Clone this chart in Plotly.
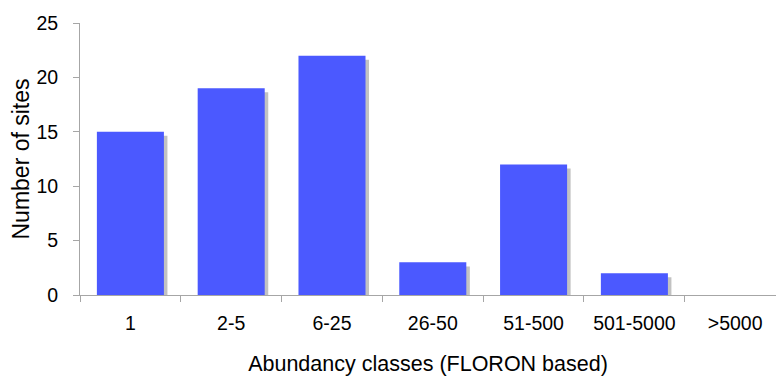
import plotly.graph_objects as go

categories = ["1", "2-5", "6-25", "26-50", "51-500", "501-5000", ">5000"]
sites = [15, 19, 22, 3, 12, 2, 0]
y_ticks = [0, 5, 10, 15, 20, 25]

BAR = "#4B59FF"
SHADOW = "#C2C2C2"
AXIS = "#A6A6A6"
FONT = "Liberation Sans, Arial, sans-serif"

bar_w = 0.665
shadow_dx = 0.035
shadow_dy = 0.37
shadow_vals = [max(v - shadow_dy, 0) for v in sites]

fig = go.Figure()
fig.add_trace(go.Bar(
    x=categories, y=shadow_vals, width=bar_w,
    offset=-bar_w / 2 + shadow_dx,
    marker=dict(color=SHADOW, line=dict(width=0)),
    hoverinfo="skip", showlegend=False,
))
fig.add_trace(go.Bar(
    x=categories, y=sites, width=bar_w,
    offset=-bar_w / 2,
    marker=dict(color=BAR, line=dict(width=0)),
    showlegend=False,
))

fig.update_layout(
    width=776, height=376,
    margin=dict(l=80, r=0, t=23, b=81),
    paper_bgcolor="white", plot_bgcolor="white",
    barmode="overlay",
    font=dict(family=FONT, color="black"),
    xaxis=dict(
        type="category",
        range=[-0.5, 6.405],
        showline=True, linecolor=AXIS, linewidth=1,
        ticks="outside", tickson="boundaries", ticklen=6, tickcolor=AXIS,
        tickfont=dict(size=19.5),
        ticklabelstandoff=11,
        showgrid=False, zeroline=False,
        title=dict(text="Abundancy classes (FLORON based)", font=dict(size=21.5), standoff=24),
    ),
    yaxis=dict(
        range=[0, 25],
        tickvals=y_ticks,
        showline=True, linecolor=AXIS, linewidth=1,
        ticks="outside", ticklen=6, tickcolor=AXIS,
        tickfont=dict(size=19.5),
        ticklabelstandoff=11,
        showgrid=False, zeroline=False,
        title=dict(text="Number of sites", font=dict(size=23), standoff=0),
    ),
)

fig.write_html("out.html")
